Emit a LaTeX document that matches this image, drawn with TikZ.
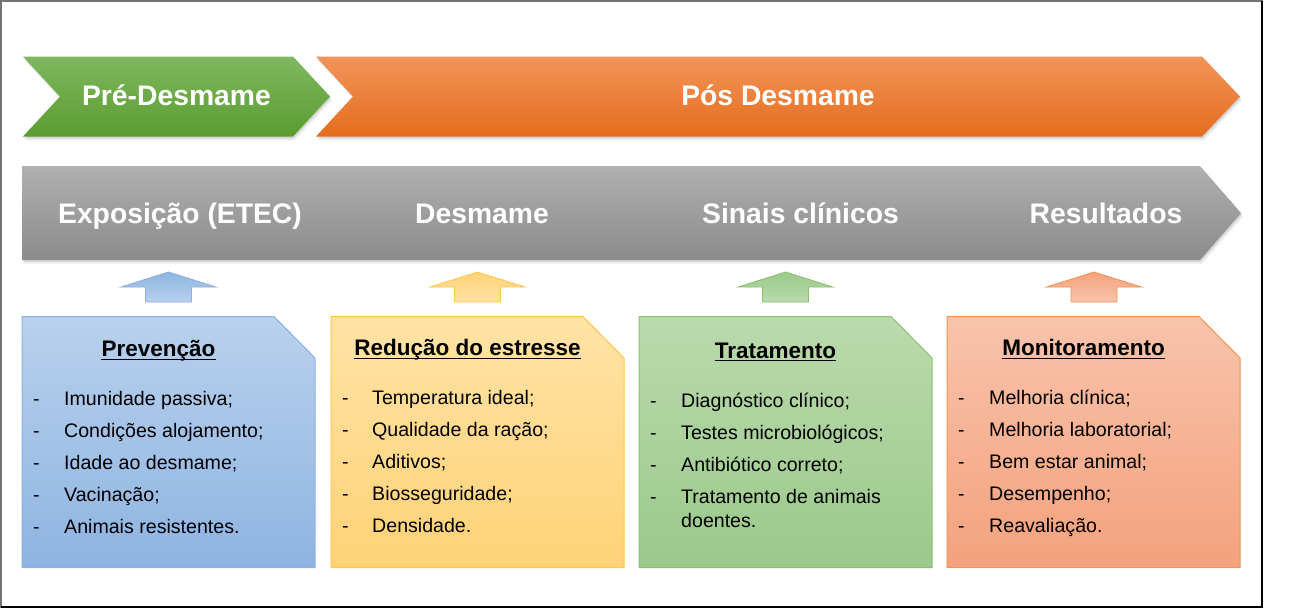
\documentclass[tikz,border=0pt]{standalone}
\usepackage{fontspec}
\setmainfont{Liberation Sans}
\definecolor{grT}{HTML}{7FB85E}
\definecolor{grB}{HTML}{5A9C30}
\definecolor{orT}{HTML}{F3945A}
\definecolor{orB}{HTML}{E46D1D}
\definecolor{gyT}{HTML}{B0B0B0}
\definecolor{gyB}{HTML}{8B8B8B}
\definecolor{bT}{HTML}{B9D1EC}
\definecolor{bB}{HTML}{8EB4E2}
\definecolor{bD}{HTML}{8AB0E0}
\definecolor{yT}{HTML}{FFE3A6}
\definecolor{yB}{HTML}{FFD277}
\definecolor{yD}{HTML}{FFC84A}
\definecolor{gT}{HTML}{BADAAD}
\definecolor{gB}{HTML}{9BC98A}
\definecolor{gD}{HTML}{8CBF72}
\definecolor{oT}{HTML}{F8C4AB}
\definecolor{oB}{HTML}{F4A17D}
\definecolor{oD}{HTML}{F29450}
\newcommand\grpath[1]{\path[#1] (23,56.5) -- (293,56.5) -- (330,96.5) -- (293,136.5) -- (23,136.5) -- (60,96.5) -- cycle;}
\newcommand\orpath[1]{\path[#1] (316,56.5) -- (1202,56.5) -- (1240,96.5) -- (1202,136.5) -- (316,136.5) -- (353,96.5) -- cycle;}
\newcommand\gypath[1]{\path[#1] (22,166) -- (1200,166) -- (1241,213) -- (1200,260) -- (22,260) -- cycle;}
\newcommand\docbox[4]{\path[draw=#4,line width=1pt,top color=#2,bottom color=#3] (#1,316.5) -- (#1+252,316.5) -- (#1+293,358) -- (#1+293,567.5) -- (#1,567.5) -- cycle;}
\newcommand\uparr[4]{\path[draw=#4,line width=0.8pt,top color=#2,bottom color=#3] (#1,272) -- (#1+47.5,287) -- (#1+23,287) -- (#1+23,302) -- (#1-23,302) -- (#1-23,287) -- (#1-47.5,287) -- cycle;}
\begin{document}
\begin{tikzpicture}[x=1pt,y=-1pt,
  bigtxt/.style={text=white,font=\fontsize{28.3}{32}\selectfont\bfseries,inner sep=0pt,anchor=base},
  ttl/.style={text=black,font=\fontsize{22.5}{26}\selectfont\bfseries,inner sep=0pt,anchor=base},
  itm/.style={text=black,font=\fontsize{19.6}{24}\selectfont,inner sep=0pt,anchor=base west},
  uline/.style={line width=1.3pt,black}]
\useasboundingbox (0,0) rectangle (1299,608);
\fill[white] (0,0) rectangle (1299,608);
% frame
\draw[black!55,line width=1.2pt] (1,1) rectangle (1262,607);
\draw[black,line width=1.6pt] (1262,1) -- (1262,607) -- (1,607);
% shadows
\grpath{fill=black,opacity=0.06,shift={(2,4)}}
\grpath{fill=black,opacity=0.11,shift={(1,2)}}
\orpath{fill=black,opacity=0.06,shift={(2,4)}}
\orpath{fill=black,opacity=0.11,shift={(1,2)}}
\gypath{fill=black,opacity=0.06,shift={(2,4)}}
\gypath{fill=black,opacity=0.11,shift={(1,2)}}
% big arrows
\grpath{top color=grT,bottom color=grB}
\orpath{top color=orT,bottom color=orB}
\gypath{top color=gyT,bottom color=gyB}
\node[bigtxt] (pre) at (176.5,105.5) {Pré-Desmame};
\node[bigtxt] (pos) at (778,105.5) {Pós Desmame};
\node[bigtxt] (expo) at (180,223) {Exposição (ETEC)};
\node[bigtxt] (desm) at (482,223) {Desmame};
\node[bigtxt] (sina) at (800.5,223) {Sinais clínicos};
\node[bigtxt] (resu) at (1106,223) {Resultados};
% small up arrows
\uparr{168.5}{bB}{bT}{bD}
\uparr{477.5}{yB}{yT}{yD}
\uparr{785.5}{gB}{gT}{gD}
\uparr{1094}{oB}{oT}{oD}
% boxes
\docbox{22}{bT}{bB}{bD}
\docbox{331}{yT}{yB}{yD}
\docbox{639}{gT}{gB}{gD}
\docbox{947}{oT}{oB}{oD}
% titles
\node[ttl] (t1) at (158.5,356.7) {Prevenção};
\node[ttl] (t2) at (467.5,355.7) {Redução do estresse};
\node[ttl] (t3) at (775.5,358) {Tratamento};
\node[ttl] (t4) at (1083.5,355.7) {Monitoramento};
\foreach \t in {t1,t2,t3,t4}
  \draw[uline] ([yshift=-2.6pt]\t.base west) -- ([yshift=-2.6pt]\t.base east);
% items
\foreach \s [count=\i from 0] in {Imunidade passiva;,Condições alojamento;,Idade ao desmame;,Vacinação;,Animais resistentes.}{
  \node[itm] (a\i) at (64,405.5+32.1*\i) {\s};
  \node[itm] (ad\i) at (33,405.5+32.1*\i) {-};}
\foreach \s [count=\i from 0] in {Temperatura ideal;,Qualidade da ração;,Aditivos;,Biosseguridade;,Densidade.}{
  \node[itm] (b\i) at (372,404+32.1*\i) {\s};
  \node[itm] (bd\i) at (342,404+32.1*\i) {-};}
\foreach \s [count=\i from 0] in {Diagnóstico clínico;,Testes microbiológicos;,Antibiótico correto;,Tratamento de animais}{
  \node[itm] (c\i) at (681,407.5+32*\i) {\s};
  \node[itm] (cd\i) at (650,407.5+32*\i) {-};}
\node[itm] (c4) at (681,527.5) {doentes.};
\foreach \s [count=\i from 0] in {Melhoria clínica;,Melhoria laboratorial;,Bem estar animal;,Desempenho;,Reavaliação.}{
  \node[itm] (d\i) at (989,404+32*\i) {\s};
  \node[itm] (dd\i) at (958,404+32*\i) {-};}
\end{tikzpicture}
\end{document}
